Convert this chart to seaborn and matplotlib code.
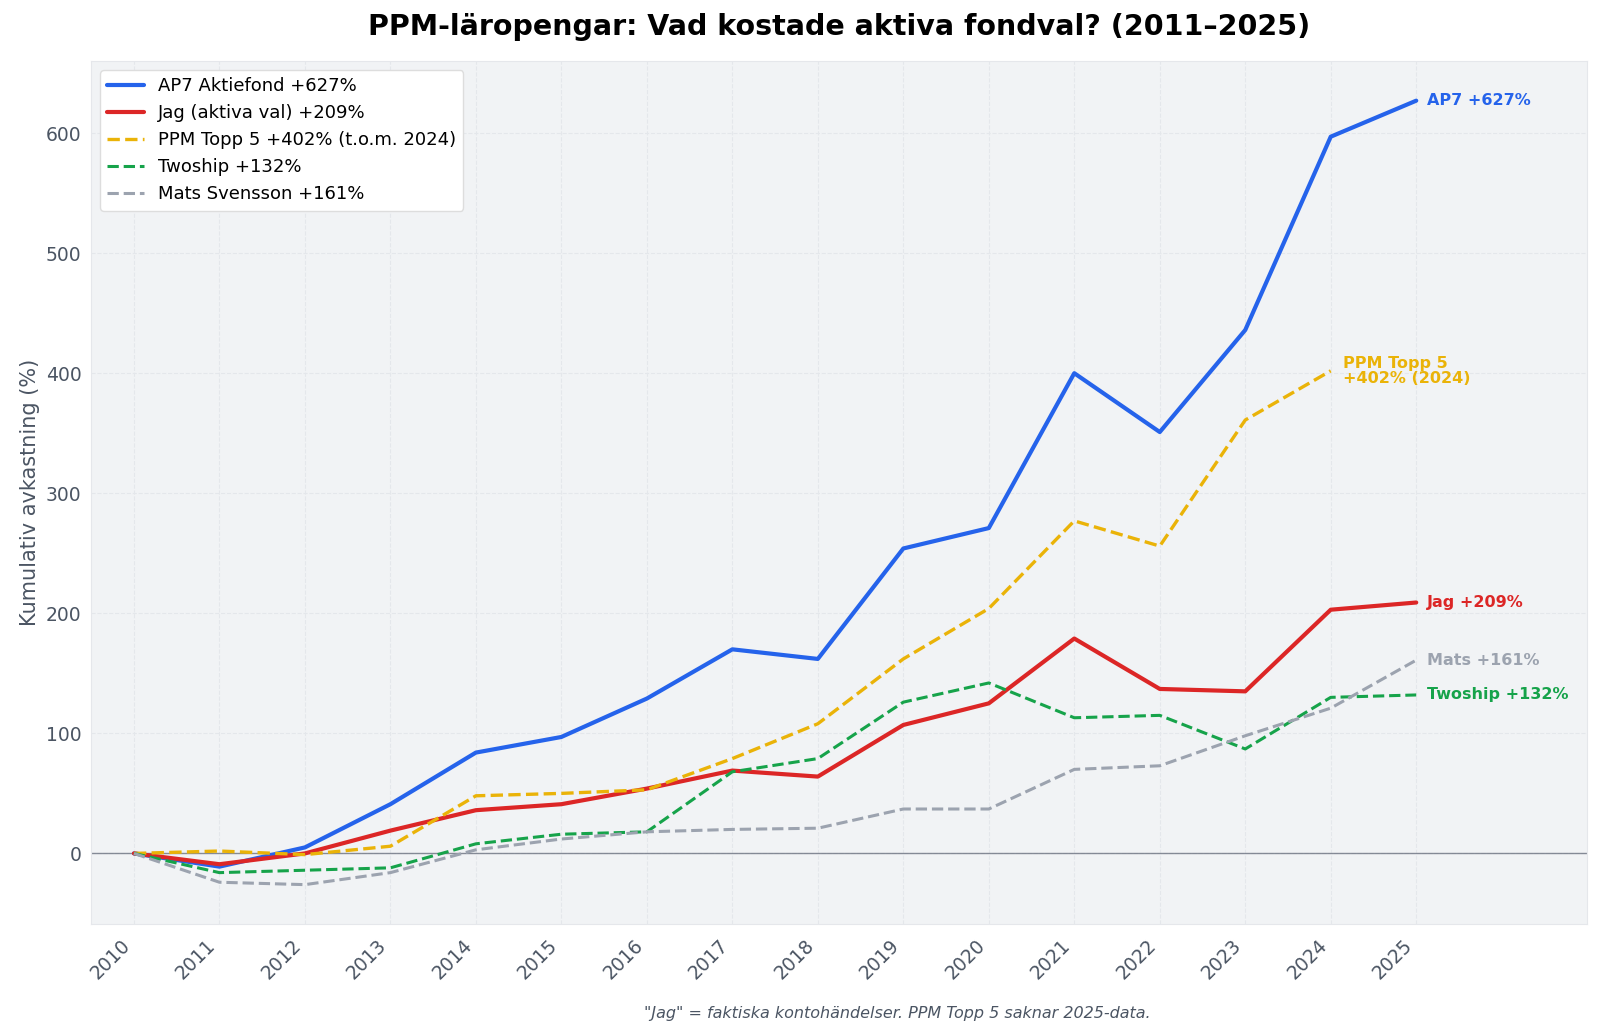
import matplotlib
matplotlib.use("Agg")
import matplotlib.pyplot as plt
import seaborn as sns
import pandas as pd

years = list(range(2010, 2026))
ap7 = [0, -11, 5, 41, 84, 97, 129, 170, 162, 254, 271, 400, 351, 436, 597, 627]
jag = [0, -9, 0, 19, 36, 41, 54, 69, 64, 107, 125, 179, 137, 135, 203, 209]
ppm_topp5 = [0, 2, -1, 6, 48, 50, 53, 79, 108, 162, 204, 277, 256, 361, 402]
twoship = [0, -16, -14, -12, 8, 16, 18, 68, 79, 126, 142, 113, 115, 87, 130, 132]
mats = [0, -24, -26, -16, 3, 12, 18, 20, 21, 37, 37, 70, 73, 98, 121, 161]

series = [
    ("AP7 Aktiefond +627%", ap7, "#2563eb", "-", 3.0, "AP7 +627%"),
    ("Jag (aktiva val) +209%", jag, "#dc2626", "-", 3.0, "Jag +209%"),
    ("PPM Topp 5 +402% (t.o.m. 2024)", ppm_topp5, "#eab308", "--", 2.4, "PPM Topp 5\n+402% (2024)"),
    ("Twoship +132%", twoship, "#16a34a", "--", 2.2, "Twoship +132%"),
    ("Mats Svensson +161%", mats, "#9ca3af", "--", 2.2, "Mats +161%"),
]

sns.set_style("whitegrid")
plt.rcParams['font.family'] = ['DejaVu Sans']

fig, ax = plt.subplots(figsize=(16, 10.35), dpi=100)
fig.subplots_adjust(left=0.057, right=0.992, top=0.941, bottom=0.107)
ax.set_facecolor("#f1f3f5")

for name, vals, color, ls, lw, label in series:
    df = pd.DataFrame({"year": years[:len(vals)], "value": vals})
    sns.lineplot(data=df, x="year", y="value", ax=ax, color=color, linestyle=ls,
                 linewidth=lw, label=name)
    x_end = df["year"].iloc[-1]
    y_end = df["value"].iloc[-1]
    if "\n" in label:
        ax.annotate(label, (x_end, y_end), xytext=(9, 0), textcoords="offset points",
                    color=color, fontsize=11.5, fontweight="bold", va="center", linespacing=1.0)
    else:
        ax.annotate(label, (x_end, y_end), xytext=(8, 0), textcoords="offset points",
                    color=color, fontsize=11.5, fontweight="bold", va="center")

ax.axhline(0, color="#6b7280", linewidth=1, alpha=0.8, zorder=1)

ax.set_xlim(2009.5, 2027)
ax.set_ylim(-59, 660)
ax.set_xticks(years)
ax.set_xticklabels([str(y) for y in years], rotation=45, ha="right", fontsize=13.5, color="#4b5563")
ax.tick_params(axis="y", labelsize=13.5, labelcolor="#4b5563")
ax.tick_params(axis="x", length=5, color="#4b5563")
ax.grid(True, linestyle="--", color="#e4e7eb", linewidth=0.8)
for sp in ax.spines.values():
    sp.set_color("#e5e7eb")

ax.set_xlabel("")
ax.set_ylabel("Kumulativ avkastning (%)", fontsize=15, color="#4b5563")
ax.set_title("PPM-läropengar: Vad kostade aktiva fondval? (2011–2025)",
             fontsize=20.5, fontweight="bold", pad=19, color="black")

leg = ax.legend(loc="upper left", fontsize=13, frameon=True, facecolor="white",
                edgecolor="#dddddd", framealpha=1)
for t in leg.get_texts():
    t.set_color("black")

# footnote sits right of centre in the original
fig.text(0.561, 0.021, '"Jag" = faktiska kontohändelser. PPM Topp 5 saknar 2025-data.',
         ha="center", va="center", fontsize=11.5, style="italic", color="#4b5563")

fig.savefig("out.png", dpi=100)
